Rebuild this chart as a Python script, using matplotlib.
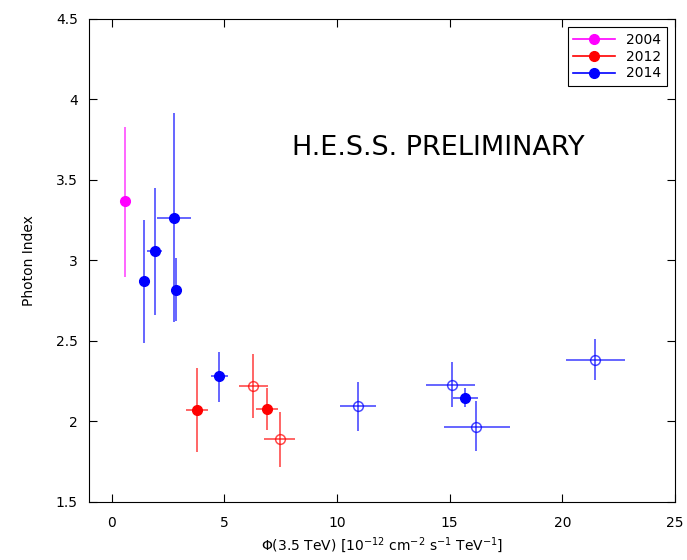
import numpy as np
import matplotlib
matplotlib.use('Agg')
from matplotlib import pyplot as plt
from matplotlib.lines import Line2D

# 2004
x04 = [0.58]
y04 = [3.37]
y04_lo = [0.47]
y04_hi = [0.46]

# 2012 filled
x12 = [3.80, 6.88]
y12 = [2.07, 2.076]
x12_lo = [0.49, 0.46]
x12_hi = [0.50, 0.49]
y12_lo = [0.26, 0.13]
y12_hi = [0.26, 0.13]

# 2012 open
x12o = [6.27, 7.46]
y12o = [2.22, 1.89]
x12o_lo = [0.63, 0.71]
x12o_hi = [0.68, 0.69]
y12o_lo = [0.20, 0.17]
y12o_hi = [0.20, 0.17]

# 2014 filled
x14 = [1.42, 1.91, 2.76, 2.85, 4.76, 15.70]
y14 = [2.87, 3.06, 3.265, 2.817, 2.283, 2.148]
x14_lo = [0.22, 0.33, 0.74, 0.10, 0.37, 0.53]
x14_hi = [0.22, 0.33, 0.78, 0.10, 0.40, 0.54]
y14_lo = [0.38, 0.40, 0.65, 0.19, 0.16, 0.06]
y14_hi = [0.38, 0.39, 0.65, 0.20, 0.15, 0.06]

# 2014 open
x14o = [10.94, 15.09, 16.19, 21.47]
y14o = [2.094, 2.227, 1.966, 2.38]
x14o_lo = [0.81, 1.12, 1.45, 1.31]
x14o_hi = [0.79, 1.04, 1.48, 1.29]
y14o_lo = [0.15, 0.14, 0.15, 0.12]
y14o_hi = [0.15, 0.14, 0.16, 0.13]

fig = plt.figure(figsize=(6.87, 5.6), dpi=100)
ax = fig.add_axes([0.1296, 0.1036, 0.853, 0.8625])

col04 = '#ff00ff'
col12 = '#ff0000'
col14 = '#0000ff'

def draw(x, y, xl, xh, yl, yh, col, filled):
    ax.errorbar(x, y, xerr=[xl, xh] if xl is not None else None, yerr=[yl, yh],
                fmt='none', ecolor=col, elinewidth=1.2, capsize=0, alpha=0.7)
    if filled:
        ax.plot(x, y, 'o', color=col, ms=7, zorder=3)
    else:
        ax.plot(x, y, 'o', mfc='none', mec=col, mew=1.1, ms=7, alpha=0.7, zorder=3)

draw(x04, y04, None, None, y04_lo, y04_hi, col04, True)
draw(x12, y12, x12_lo, x12_hi, y12_lo, y12_hi, col12, True)
draw(x12o, y12o, x12o_lo, x12o_hi, y12o_lo, y12o_hi, col12, False)
draw(x14, y14, x14_lo, x14_hi, y14_lo, y14_hi, col14, True)
draw(x14o, y14o, x14o_lo, x14o_hi, y14o_lo, y14o_hi, col14, False)

ax.set_xlim(-1, 25)
ax.set_ylim(1.5, 4.5)
ax.set_xticks([0, 5, 10, 15, 20, 25])
ax.set_yticks([1.5, 2, 2.5, 3, 3.5, 4, 4.5])
ax.set_yticklabels(['1.5', '2', '2.5', '3', '3.5', '4', '4.5'])
ax.tick_params(direction='in', top=True, right=True, length=6, labelsize=10, pad=8)
ax.tick_params(axis='x', pad=10)

ax.set_xlabel(r'$\Phi$(3.5 TeV) [10$^{-12}$ cm$^{-2}$ s$^{-1}$ TeV$^{-1}$]', fontsize=10)
ax.set_ylabel('Photon Index', fontsize=10, labelpad=14)

ax.text(0.596, 0.733, 'H.E.S.S. PRELIMINARY', transform=ax.transAxes,
        ha='center', va='center', fontsize=19.5)

handles = [Line2D([], [], color=col04, marker='o', ms=7, lw=1.2),
           Line2D([], [], color=col12, marker='o', ms=7, lw=1.2),
           Line2D([], [], color=col14, marker='o', ms=7, lw=1.2)]
leg = ax.legend(handles, ['2004', '2012', '2014'], loc='upper right',
                fontsize=10, fancybox=False, edgecolor='black', framealpha=1,
                handlelength=3, borderaxespad=0.6, labelspacing=0.2)
leg.get_frame().set_linewidth(0.8)

fig.savefig('out.png', dpi=100)
